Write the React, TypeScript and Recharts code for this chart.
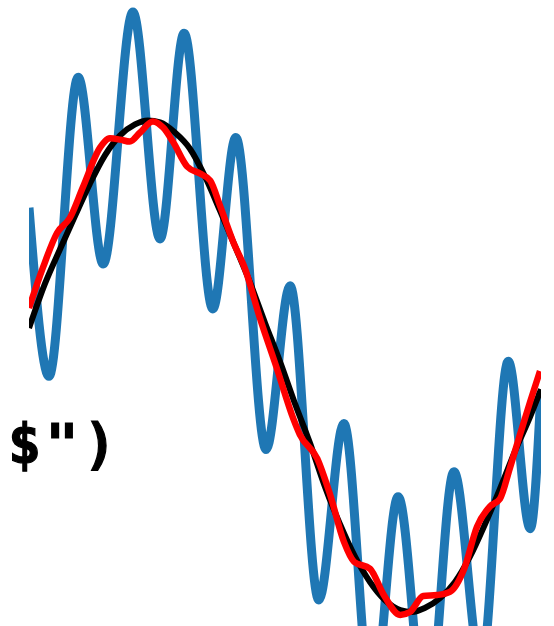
import { LineChart, Line, XAxis, YAxis } from 'recharts';

// time (fraction of the window) and value for each trace
const cleanT = [
  0.0, 0.031, 0.061, 0.09, 0.119, 0.148, 0.178, 0.207, 0.232, 0.256, 0.285, 0.314, 0.344, 0.373,
  0.402, 0.432, 0.461, 0.49, 0.52, 0.549, 0.578, 0.607, 0.637, 0.666, 0.695, 0.725, 0.748, 0.773,
  0.803, 0.832, 0.861, 0.891, 0.92, 0.949, 0.979, 1.0,
];
const cleanV = [
  0.155, 0.335, 0.478, 0.612, 0.743, 0.857, 0.939, 0.984, 1.0, 0.992, 0.951, 0.886, 0.771, 0.633,
  0.49, 0.339, 0.176, 0.02, -0.155, -0.314, -0.49, -0.641, -0.776, -0.878, -0.951, -0.992, -1.0,
  -0.984, -0.943, -0.878, -0.776, -0.641, -0.498, -0.347, -0.204, -0.094,
];

const noisyT = [
  0.0, 0.039, 0.096, 0.145, 0.203, 0.256, 0.303, 0.359, 0.404, 0.463, 0.51, 0.566, 0.615, 0.67,
  0.721, 0.777, 0.83, 0.883, 0.936, 0.979, 1.0,
];
const noisyV = [
  0.645, -0.041, 1.176, 0.416, 1.441, 0.518, 1.355, 0.233, 0.931, -0.339, 0.327, -0.951, -0.233,
  -1.388, -0.531, -1.469, -0.429, -1.224, 0.02, -0.661, -0.102,
];

const filteredT = [
  0.0, 0.027, 0.055, 0.08, 0.105, 0.139, 0.158, 0.178, 0.197, 0.217, 0.242, 0.262, 0.281, 0.309,
  0.334, 0.354, 0.373, 0.398, 0.422, 0.451, 0.484, 0.516, 0.529, 0.563, 0.588, 0.615, 0.635, 0.666,
  0.693, 0.725, 0.744, 0.77, 0.797, 0.822, 0.85, 0.875, 0.9, 0.92, 0.939, 0.959, 0.979, 0.998,
];
const filteredV = [
  0.237, 0.4, 0.543, 0.604, 0.727, 0.89, 0.927, 0.922, 0.914, 0.951, 0.996, 0.971, 0.914, 0.812,
  0.784, 0.755, 0.653, 0.51, 0.396, 0.196, -0.008, -0.212, -0.278, -0.376, -0.522, -0.714, -0.796,
  -0.824, -0.931, -1.012, -1.0, -0.935, -0.931, -0.918, -0.824, -0.653, -0.571, -0.539, -0.416,
  -0.278, -0.143, -0.02,
];

const LABEL = '$")';

const zip = (ts: number[], vs: number[]) => ts.map((t, i) => ({ t, v: vs[i] }));

export default function App() {
  const noisy = zip(noisyT, noisyV);
  const clean = zip(cleanT, cleanV);
  const filtered = zip(filteredT, filteredV);

  return (
    <div style={{ position: 'absolute', left: 0, top: 0, width: 554, height: 626, background: '#fff' }}>
      <LineChart width={554} height={626} margin={{ top: 0, right: 13, bottom: 0, left: 29 }}>
        <XAxis type="number" dataKey="t" domain={[0, 1]} hide allowDataOverflow />
        <YAxis type="number" domain={[-1.057, 1.49]} hide allowDataOverflow />
        <Line
          data={noisy}
          dataKey="v"
          type="monotone"
          stroke="#1f77b4"
          strokeWidth={9}
          dot={false}
          isAnimationActive={false}
        />
        <Line
          data={clean}
          dataKey="v"
          type="monotone"
          stroke="#000000"
          strokeWidth={6}
          dot={false}
          isAnimationActive={false}
        />
        <Line
          data={filtered}
          dataKey="v"
          type="monotone"
          stroke="#ff0000"
          strokeWidth={6.5}
          dot={false}
          isAnimationActive={false}
        />
      </LineChart>
      <svg width={554} height={626} style={{ position: 'absolute', left: 0, top: 0, pointerEvents: 'none' }}>
        <text
          x={8}
          y={463}
          fontFamily="'DejaVu Sans Mono', monospace"
          fontWeight="bold"
          fontSize={55}
          letterSpacing={4.5}
          fill="#000"
          stroke="#000"
          strokeWidth={1.2}
        >
          {LABEL}
        </text>
      </svg>
    </div>
  );
}
